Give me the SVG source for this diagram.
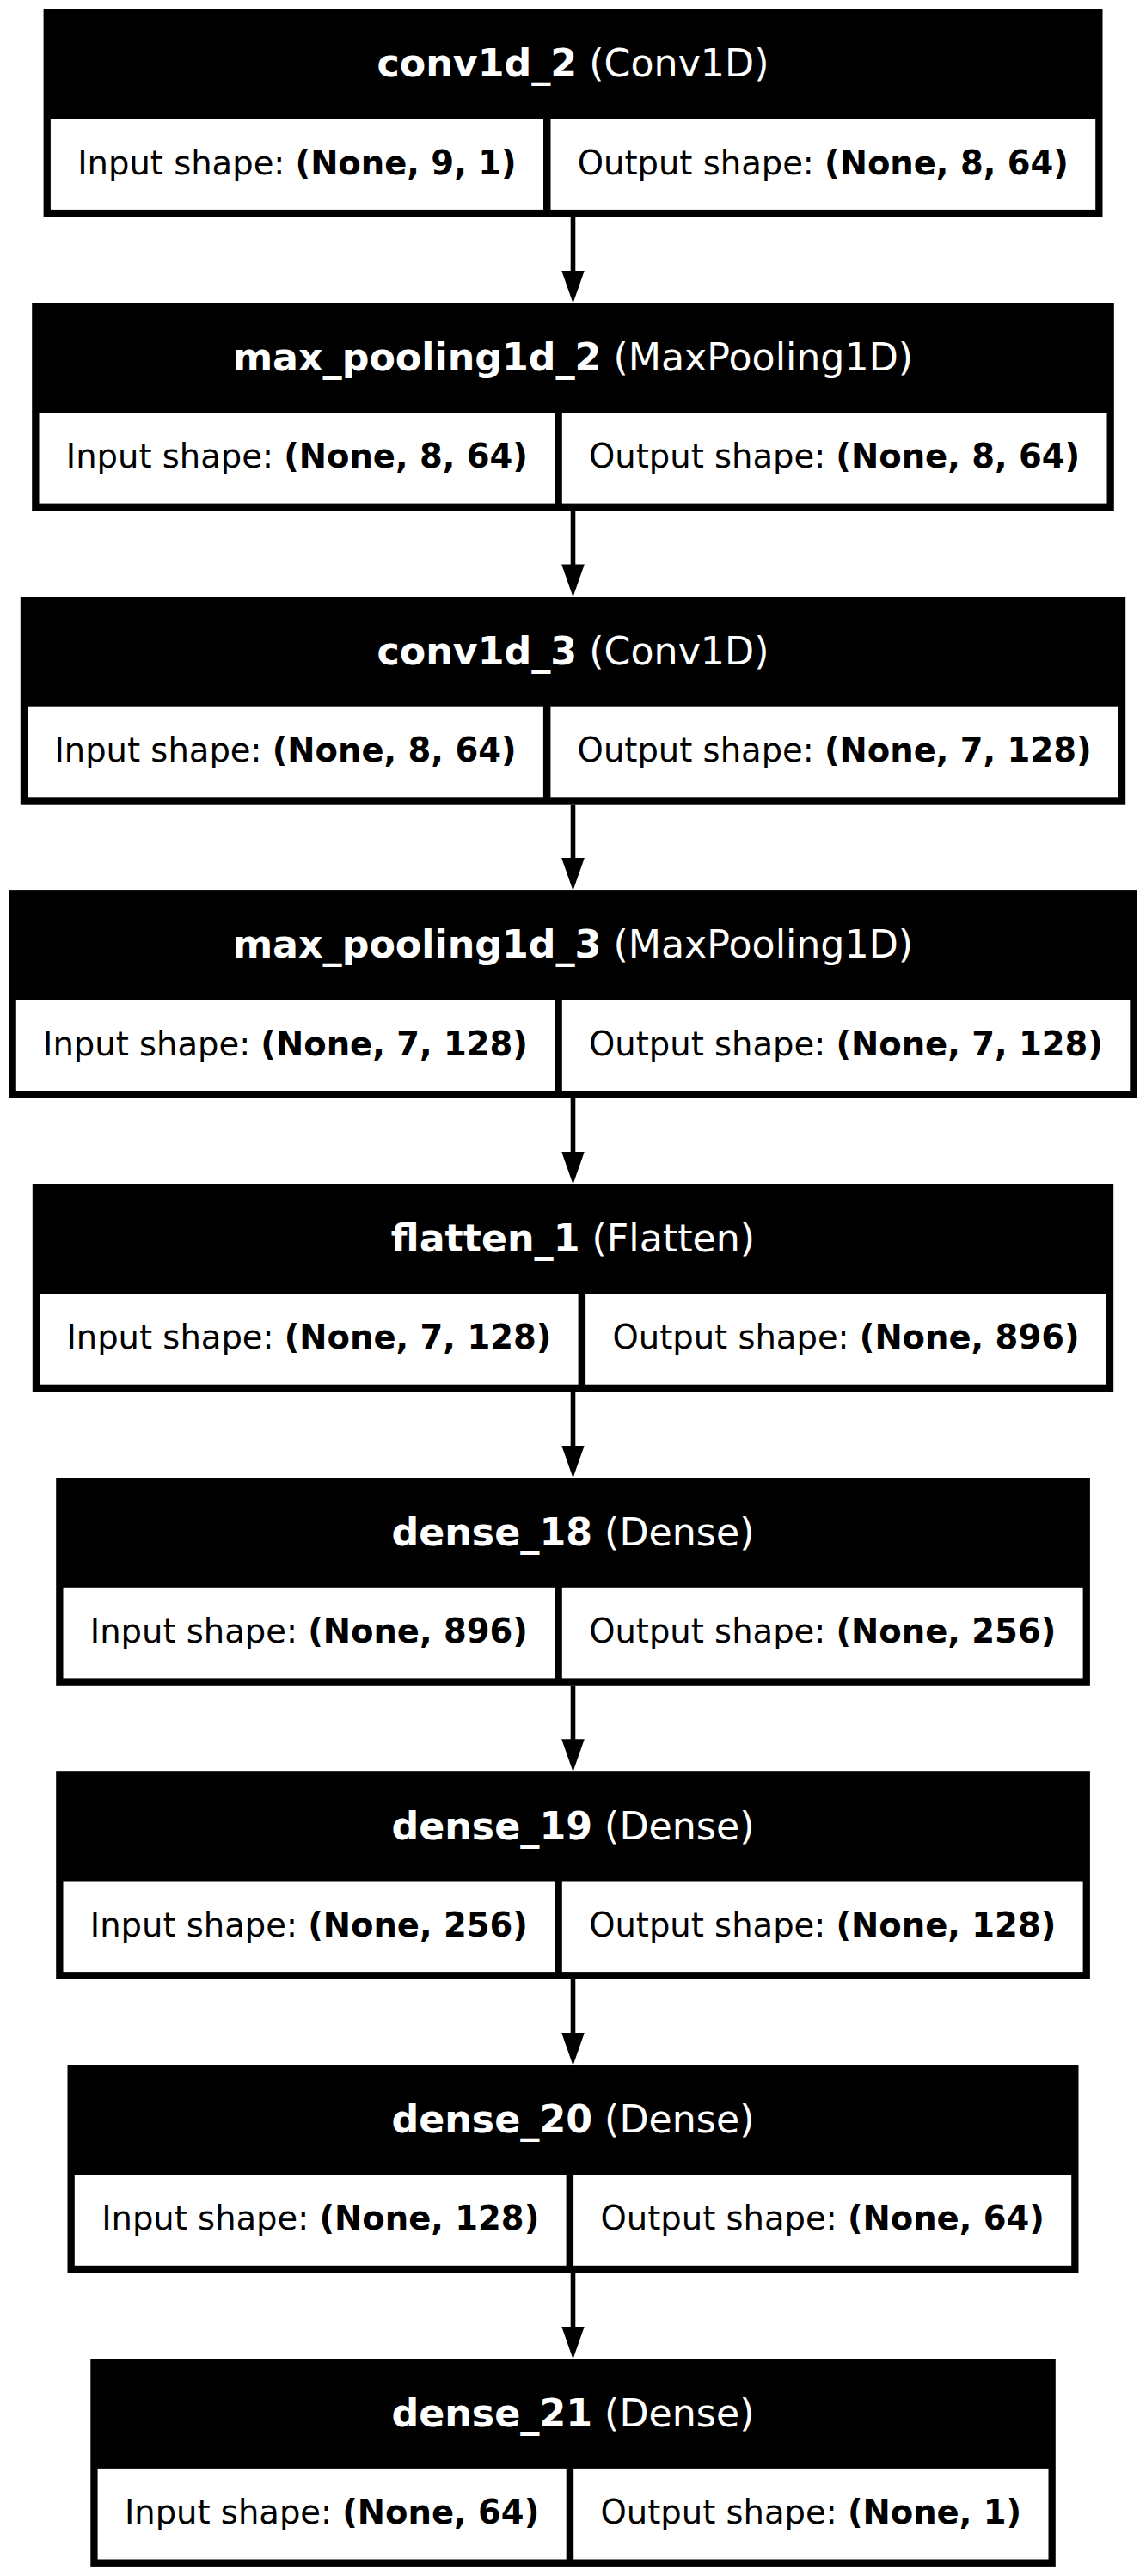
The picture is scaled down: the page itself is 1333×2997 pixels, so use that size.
<svg xmlns="http://www.w3.org/2000/svg" width="1333" height="2997" viewBox="0 0 1333 2997">
<style>
  .frame { fill: #000000; }
  .cell { fill: #ffffff; }
  .title { font-family: "DejaVu Sans", "Noto Sans", sans-serif; font-size: 44.3px; fill: #ffffff; text-anchor: middle; }
  .shape { font-family: "DejaVu Sans", "Noto Sans", sans-serif; font-size: 38.5px; fill: #000000; text-anchor: middle; }
  .b { font-weight: bold; }
  .edge { stroke: #000000; stroke-width: 5.6; fill: none; }
</style>
<defs>
  <marker id="arrow" markerUnits="userSpaceOnUse" markerWidth="40" markerHeight="28" viewBox="0 0 40 28" refX="1" refY="13.35" orient="auto">
    <path d="M0,0 L38,13.35 L0,26.7 Z" fill="#000000"/>
  </marker>
</defs>
<rect x="0" y="0" width="1333" height="2997" fill="#ffffff"/>

<g id="edges">
  <path class="edge" marker-end="url(#arrow)" d="M666.5,252.3 L666.5,315.7"/>
  <path class="edge" marker-end="url(#arrow)" d="M666.5,594 L666.5,657.4"/>
  <path class="edge" marker-end="url(#arrow)" d="M666.5,935.7 L666.5,999.1"/>
  <path class="edge" marker-end="url(#arrow)" d="M666.5,1277.4 L666.5,1340.8"/>
  <path class="edge" marker-end="url(#arrow)" d="M666.5,1619.1 L666.5,1682.5"/>
  <path class="edge" marker-end="url(#arrow)" d="M666.5,1960.8 L666.5,2024.2"/>
  <path class="edge" marker-end="url(#arrow)" d="M666.5,2302.5 L666.5,2365.9"/>
  <path class="edge" marker-end="url(#arrow)" d="M666.5,2644.2 L666.5,2707.6"/>
</g>

<g id="conv1d_2">
  <rect class="frame" x="50.6" y="11" width="1231.9" height="241.3"/>
  <rect class="cell" x="58.9" y="138.3" width="573.1" height="105.6"/>
  <rect class="cell" x="640.5" y="138.3" width="633.7" height="105.6"/>
  <text class="title" x="666.5" y="89.3"><tspan class="b">conv1d_2</tspan> (Conv1D)</text>
  <text class="shape" x="345.4" y="202.5">Input shape: <tspan class="b">(None, 9, 1)</tspan></text>
  <text class="shape" x="957.3" y="202.5">Output shape: <tspan class="b">(None, 8, 64)</tspan></text>
</g>

<g id="max_pooling1d_2">
  <rect class="frame" x="37.2" y="352.7" width="1258.6" height="241.3"/>
  <rect class="cell" x="45.5" y="480" width="599.8" height="105.6"/>
  <rect class="cell" x="653.8" y="480" width="633.7" height="105.6"/>
  <text class="title" x="666.5" y="431"><tspan class="b">max_pooling1d_2</tspan> (MaxPooling1D)</text>
  <text class="shape" x="345.4" y="544.2">Input shape: <tspan class="b">(None, 8, 64)</tspan></text>
  <text class="shape" x="970.6" y="544.2">Output shape: <tspan class="b">(None, 8, 64)</tspan></text>
</g>

<g id="conv1d_3">
  <rect class="frame" x="23.8" y="694.4" width="1285.4" height="241.3"/>
  <rect class="cell" x="32.1" y="821.7" width="599.8" height="105.6"/>
  <rect class="cell" x="640.4" y="821.7" width="660.5" height="105.6"/>
  <text class="title" x="666.5" y="772.7"><tspan class="b">conv1d_3</tspan> (Conv1D)</text>
  <text class="shape" x="332" y="885.9">Input shape: <tspan class="b">(None, 8, 64)</tspan></text>
  <text class="shape" x="970.6" y="885.9">Output shape: <tspan class="b">(None, 7, 128)</tspan></text>
</g>

<g id="max_pooling1d_3">
  <rect class="frame" x="10.5" y="1036.1" width="1312.1" height="241.3"/>
  <rect class="cell" x="18.8" y="1163.4" width="626.5" height="105.6"/>
  <rect class="cell" x="653.8" y="1163.4" width="660.5" height="105.6"/>
  <text class="title" x="666.5" y="1114.4"><tspan class="b">max_pooling1d_3</tspan> (MaxPooling1D)</text>
  <text class="shape" x="332" y="1227.6">Input shape: <tspan class="b">(None, 7, 128)</tspan></text>
  <text class="shape" x="984" y="1227.6">Output shape: <tspan class="b">(None, 7, 128)</tspan></text>
</g>

<g id="flatten_1">
  <rect class="frame" x="37.8" y="1377.8" width="1257.4" height="241.3"/>
  <rect class="cell" x="46.1" y="1505.1" width="626.5" height="105.6"/>
  <rect class="cell" x="681.1" y="1505.1" width="605.8" height="105.6"/>
  <text class="title" x="666.5" y="1456.1"><tspan class="b">flatten_1</tspan> (Flatten)</text>
  <text class="shape" x="359.4" y="1569.3">Input shape: <tspan class="b">(None, 7, 128)</tspan></text>
  <text class="shape" x="984" y="1569.3">Output shape: <tspan class="b">(None, 896)</tspan></text>
</g>

<g id="dense_18">
  <rect class="frame" x="65.2" y="1719.5" width="1202.7" height="241.3"/>
  <rect class="cell" x="73.5" y="1846.8" width="571.8" height="105.6"/>
  <rect class="cell" x="653.8" y="1846.8" width="605.8" height="105.6"/>
  <text class="title" x="666.5" y="1797.8"><tspan class="b">dense_18</tspan> (Dense)</text>
  <text class="shape" x="359.4" y="1911">Input shape: <tspan class="b">(None, 896)</tspan></text>
  <text class="shape" x="956.7" y="1911">Output shape: <tspan class="b">(None, 256)</tspan></text>
</g>

<g id="dense_19">
  <rect class="frame" x="65.2" y="2061.2" width="1202.7" height="241.3"/>
  <rect class="cell" x="73.5" y="2188.5" width="571.8" height="105.6"/>
  <rect class="cell" x="653.8" y="2188.5" width="605.8" height="105.6"/>
  <text class="title" x="666.5" y="2139.5"><tspan class="b">dense_19</tspan> (Dense)</text>
  <text class="shape" x="359.4" y="2252.7">Input shape: <tspan class="b">(None, 256)</tspan></text>
  <text class="shape" x="956.7" y="2252.7">Output shape: <tspan class="b">(None, 128)</tspan></text>
</g>

<g id="dense_20">
  <rect class="frame" x="78.5" y="2402.9" width="1176" height="241.3"/>
  <rect class="cell" x="86.8" y="2530.2" width="571.8" height="105.6"/>
  <rect class="cell" x="667.1" y="2530.2" width="579.1" height="105.6"/>
  <text class="title" x="666.5" y="2481.2"><tspan class="b">dense_20</tspan> (Dense)</text>
  <text class="shape" x="372.7" y="2594.4">Input shape: <tspan class="b">(None, 128)</tspan></text>
  <text class="shape" x="956.7" y="2594.4">Output shape: <tspan class="b">(None, 64)</tspan></text>
</g>

<g id="dense_21">
  <rect class="frame" x="105.3" y="2744.6" width="1122.5" height="241.3"/>
  <rect class="cell" x="113.6" y="2871.9" width="545.1" height="105.6"/>
  <rect class="cell" x="667.2" y="2871.9" width="552.3" height="105.6"/>
  <text class="title" x="666.5" y="2822.9"><tspan class="b">dense_21</tspan> (Dense)</text>
  <text class="shape" x="386.1" y="2936.1">Input shape: <tspan class="b">(None, 64)</tspan></text>
  <text class="shape" x="943.3" y="2936.1">Output shape: <tspan class="b">(None, 1)</tspan></text>
</g>
</svg>
